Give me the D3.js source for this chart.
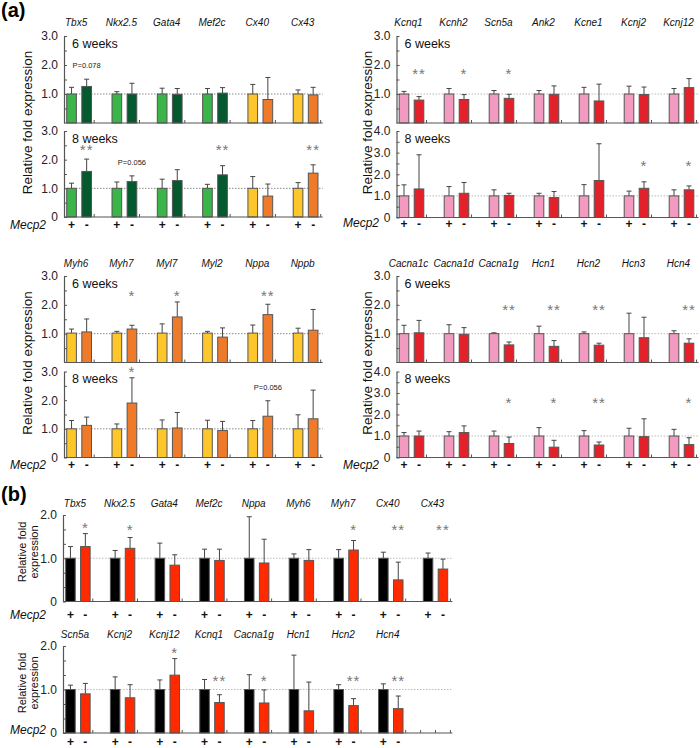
<!DOCTYPE html>
<html><head><meta charset="utf-8">
<script src="https://cdn.jsdelivr.net/npm/d3@7"></script>
<style>body{margin:0;background:#fff} svg{display:block} text{font-family:Arial,"Liberation Sans",sans-serif}</style>
</head><body><svg id="c" width="700" height="748"></svg>
<script>
// ---------------- DATA ----------------
const genesA1 = ["Tbx5","Nkx2.5","Gata4","Mef2c","Cx40","Cx43"];
const a1w6Plus = [1.00,1.00,1.00,1.00,1.00,1.00];
const a1w6PlusErr = [0.23,0.08,0.20,0.19,0.33,0.14];
const a1w6Minus = [1.26,1.00,0.99,1.03,0.81,0.97];
const a1w6MinusErr = [0.25,0.37,0.20,0.19,0.76,0.26];
const a1w6Sig = ["P=0.078","","","","",""];
const a1w8Plus = [1.00,1.00,1.00,1.00,1.00,1.00];
const a1w8PlusErr = [0.18,0.22,0.32,0.14,0.41,0.20];
const a1w8Minus = [1.59,1.235,1.27,1.47,0.73,1.53];
const a1w8MinusErr = [0.43,0.20,0.38,0.32,0.42,0.29];
const a1w8Sig = ["**","P=0.056","","**","","**"];

const genesA2 = ["Kcnq1","Kcnh2","Scn5a","Ank2","Kcne1","Kcnj2","Kcnj12"];
const a2w6Plus = [1.00,1.00,1.00,1.00,1.00,1.00,1.00];
const a2w6PlusErr = [0.09,0.19,0.12,0.12,0.23,0.27,0.19];
const a2w6Minus = [0.79,0.81,0.85,0.99,0.76,0.98,1.22];
const a2w6MinusErr = [0.12,0.17,0.14,0.29,0.58,0.26,0.31];
const a2w6Sig = ["**","*","*","","","",""];
const a2w8Plus = [1.00,1.00,1.00,1.00,1.00,1.00,1.00];
const a2w8PlusErr = [0.51,0.43,0.28,0.12,0.52,0.22,0.28];
const a2w8Minus = [1.32,1.12,1.02,0.92,1.71,1.35,1.28];
const a2w8MinusErr = [1.58,0.50,0.10,0.28,1.70,0.30,0.18];
const a2w8Sig = ["","","","","","*","*"];

const genesA3 = ["Myh6","Myh7","Myl7","Myl2","Nppa","Nppb"];
const a3w6Plus = [1.02,1.02,1.02,1.02,1.02,1.02];
const a3w6PlusErr = [0.14,0.06,0.32,0.06,0.28,0.17];
const a3w6Minus = [1.06,1.16,1.58,0.88,1.66,1.12];
const a3w6MinusErr = [0.45,0.13,0.52,0.32,0.36,0.72];
const a3w6Sig = ["","*","*","","**",""];
const a3w8Plus = [1.00,1.00,1.00,1.00,1.00,1.00];
const a3w8PlusErr = [0.29,0.17,0.31,0.30,0.29,0.49];
const a3w8Minus = [1.12,1.90,1.03,0.94,1.44,1.35];
const a3w8MinusErr = [0.29,0.88,0.54,0.32,0.54,1.00];
const a3w8Sig = ["","*","","","P=0.056",""];

const genesA4 = ["Cacna1c","Cacna1d","Cacna1g","Hcn1","Hcn2","Hcn3","Hcn4"];
const a4w6Plus = [1.00,1.00,1.00,1.00,1.00,1.00,1.00];
const a4w6PlusErr = [0.29,0.31,0.03,0.26,0.06,0.71,0.10];
const a4w6Minus = [1.03,0.98,0.61,0.56,0.60,0.86,0.67];
const a4w6MinusErr = [0.43,0.23,0.10,0.20,0.07,0.71,0.15];
const a4w6Sig = ["","","**","**","**","","**"];
const a4w8Plus = [1.00,1.00,1.00,1.00,1.00,1.00,1.00];
const a4w8PlusErr = [0.16,0.20,0.23,0.39,0.25,0.36,0.31];
const a4w8Minus = [1.00,1.16,0.65,0.48,0.58,0.97,0.60];
const a4w8MinusErr = [0.23,0.31,0.30,0.32,0.14,0.83,0.32];
const a4w8Sig = ["","","*","*","**","","*"];

const genesB1 = ["Tbx5","Nkx2.5","Gata4","Mef2c","Nppa","Myh6","Myh7","Cx40","Cx43"];
const b1Plus = [1,1,1,1,1,1,1,1,1];
const b1PlusErr = [0.27,0.18,0.35,0.21,0.96,0.10,0.20,0.14,0.12];
const b1Minus = [1.27,1.23,0.84,0.95,0.89,0.95,1.19,0.50,0.75];
const b1MinusErr = [0.30,0.25,0.24,0.26,0.55,0.25,0.22,0.41,0.23];
const b1Sig = ["*","*","","","","","*","**","**"];

const genesB2 = ["Scn5a","Kcnj2","Kcnj12","Kcnq1","Cacna1g","Hcn1","Hcn2","Hcn4"];
const b2Plus = [1,1,1,1,1,1,1,1];
const b2PlusErr = [0.10,0.29,0.22,0.23,0.34,0.79,0.11,0.13];
const b2Minus = [0.90,0.81,1.33,0.70,0.69,0.51,0.63,0.56];
const b2MinusErr = [0.24,0.30,0.38,0.18,0.30,0.66,0.16,0.29];
const b2Sig = ["","","*","**","*","","**","**"];

const yTicks3 = [1,2,3], yTicks3z = [0,1,2,3], yTicks4z = [0,1,2,3,4], yTicks2z = [0,1,2];

// ---------------- STYLE ----------------
const C = {lg:"#3bb44a", dg:"#05592e", ye:"#fdc62b", or:"#ef7b2a", pk:"#f29abf", rd:"#e2212a", bk:"#000000", br:"#ff2a00"};
const FONT = "Arial, 'Liberation Sans', sans-serif";
const svg = d3.select("#c");

function rep(v,n){return d3.range(n).map(()=>v);}

function drawSub(c) {
  const dom = c.genes.concat(d3.range(c.empty || 0).map(i => "__e" + i));
  const x = d3.scaleBand().domain(dom).range([c.x0, c.x0 + dom.length * c.gw]).padding(0);
  const slot = d3.scaleBand().domain(["+","-","_"]).range([0, x.bandwidth()]);
  const sw = slot.bandwidth(), bw = sw * 0.64;
  const y = d3.scaleLinear().domain([0, c.yMax]).range([c.y0, c.yTop]);
  const g = svg.append("g");
  const xEnd = x(dom[dom.length - 1]) + slot("_") + 2;

  g.append("line").attr("x1", c.x0).attr("x2", xEnd).attr("y1", y(1)).attr("y2", y(1))
    .attr("stroke", c.refCol).attr("stroke-width", 1).attr("stroke-dasharray", "1.5,1.5");

  const bars = [];
  c.genes.forEach((gn, i) => {
    bars.push({g: gn, k: "+", v: c.plus[i], e: c.plusErr[i], col: c.pc[i]});
    bars.push({g: gn, k: "-", v: c.minus[i], e: c.minusErr[i], col: c.mc[i]});
  });
  const cx = d => x(d.g) + slot(d.k) + sw / 2;
  g.selectAll("line.eb").data(bars).join("line").attr("class", "eb")
    .attr("x1", cx).attr("x2", cx).attr("y1", d => y(d.v)).attr("y2", d => y(d.v + d.e))
    .attr("stroke", "#444").attr("stroke-width", 1);
  g.selectAll("line.cap").data(bars).join("line").attr("class", "cap")
    .attr("x1", d => cx(d) - 2.5).attr("x2", d => cx(d) + 2.5).attr("y1", d => y(d.v + d.e)).attr("y2", d => y(d.v + d.e))
    .attr("stroke", "#444").attr("stroke-width", 1);
  g.selectAll("rect.bar").data(bars).join("rect").attr("class", "bar")
    .attr("x", d => cx(d) - bw / 2).attr("y", d => y(d.v)).attr("width", bw).attr("height", d => y(0) - y(d.v))
    .attr("fill", d => d.col).attr("stroke", "#555").attr("stroke-width", 1);

  g.append("line").attr("x1", c.x0).attr("x2", xEnd).attr("y1", y(0)).attr("y2", y(0)).attr("stroke", "#555").attr("stroke-width", 1.2);
  const xt = [];
  dom.forEach((d, i) => {
    if (i < c.genes.length) xt.push(x(d) + slot("_"));
    else { xt.push(x(d), x(d) + sw, x(d) + 2 * sw); }
  });
  g.selectAll("line.xt").data(xt).join("line").attr("class", "xt")
    .attr("x1", d => d).attr("x2", d => d).attr("y1", y(0)).attr("y2", y(0) - 3).attr("stroke", "#555");

  const ax = d3.axisLeft(y).tickValues(c.majors).tickFormat(d => d === 0 ? "0" : d.toFixed(1))
    .tickSizeInner(-3).tickSizeOuter(0).tickPadding(6);
  const ga = g.append("g").attr("transform", `translate(${c.x0},0)`).call(ax);
  ga.attr("font-size", null).attr("font-family", null);
  ga.select(".domain").attr("stroke", "#555").attr("stroke-width", 1.2);
  ga.selectAll(".tick line").attr("stroke", "#555");
  ga.selectAll(".tick text").attr("font-size", 12).attr("font-family", FONT).attr("fill", "#222");
  const minors = [];
  for (let v = c.minorStep; v < c.yMax; v += c.minorStep) if (Math.abs(v - Math.round(v)) > 1e-6) minors.push(v);
  const am = d3.axisLeft(y).tickValues(minors).tickFormat("").tickSizeInner(-3).tickSizeOuter(0);
  const gm = g.append("g").attr("transform", `translate(${c.x0},0)`).call(am);
  gm.select(".domain").remove();
  gm.selectAll(".tick line").attr("stroke", "#555");

  if (c.week) g.append("text").attr("x", c.x0 + 8).attr("y", c.yTop + 11.5).attr("font-size", 12.5).attr("font-family", FONT).attr("fill", "#111").text(c.week);

  if (c.showGenes) g.selectAll("text.gene").data(c.genes).join("text").attr("class", "gene")
    .attr("x", d => x(d) + sw - 3).attr("y", c.geneY).attr("text-anchor", "middle")
    .attr("font-size", 10).attr("font-style", "italic").attr("font-family", FONT).attr("fill", "#111").text(d => d);

  if (c.pmY) {
    g.selectAll("text.pm").data(bars).join("text").attr("class", "pm")
      .attr("x", cx).attr("y", c.pmY).attr("text-anchor", "middle").attr("font-size", 12).attr("font-weight", "bold")
      .attr("font-family", FONT).attr("fill", "#111").text(d => d.k);
    g.append("text").attr("x", c.mecpX).attr("y", c.mecpY).attr("font-size", 12).attr("font-style", "italic")
      .attr("font-family", FONT).attr("fill", "#111").text("Mecp2");
  }

  c.sig.forEach((s, i) => {
    if (!s) return;
    const xm = x(c.genes[i]) + slot("-") + sw / 2;
    const top = y(c.minus[i] + c.minusErr[i]);
    if (s.startsWith("P")) {
      g.append("text").attr("x", xm).attr("y", top - 11).attr("text-anchor", "middle").attr("font-size", 7.5)
        .attr("font-family", FONT).attr("fill", "#222").text(s);
    } else {
      const cyv = Math.min(c.sigY, top - 9);
      g.append("text").attr("x", xm).attr("y", cyv + 8).attr("text-anchor", "middle").attr("font-size", 15)
        .attr("letter-spacing", 1).attr("font-family", FONT).attr("fill", "#777").text(s);
    }
  });
}

const a1pc = [C.lg,C.lg,C.lg,C.lg,C.ye,C.ye], a1mc = [C.dg,C.dg,C.dg,C.dg,C.or,C.or];
const LX = 64, LG = 45.3, RX = 396.5, RG = 45;

drawSub({genes: genesA1, plus: a1w6Plus, plusErr: a1w6PlusErr, minus: a1w6Minus, minusErr: a1w6MinusErr, sig: a1w6Sig,
  pc: a1pc, mc: a1mc, x0: LX, gw: LG, yMax: 3, y0: 123, yTop: 36, majors: yTicks3, minorStep: 0.5, refCol: "#888",
  week: "6 weeks", showGenes: true, geneY: 26, sigY: 999});
drawSub({genes: genesA1, plus: a1w8Plus, plusErr: a1w8PlusErr, minus: a1w8Minus, minusErr: a1w8MinusErr, sig: a1w8Sig,
  pc: a1pc, mc: a1mc, x0: LX, gw: LG, yMax: 3, y0: 217, yTop: 131, majors: yTicks3z, minorStep: 0.5, refCol: "#888",
  week: "8 weeks", pmY: 229, mecpX: 10, mecpY: 229, sigY: 147});

drawSub({genes: genesA2, plus: a2w6Plus, plusErr: a2w6PlusErr, minus: a2w6Minus, minusErr: a2w6MinusErr, sig: a2w6Sig,
  pc: rep(C.pk,7), mc: rep(C.rd,7), x0: RX, gw: RG, yMax: 3, y0: 123, yTop: 36, majors: yTicks3, minorStep: 0.5, refCol: "#bbb",
  week: "6 weeks", showGenes: true, geneY: 26, sigY: 71});
drawSub({genes: genesA2, plus: a2w8Plus, plusErr: a2w8PlusErr, minus: a2w8Minus, minusErr: a2w8MinusErr, sig: a2w8Sig,
  pc: rep(C.pk,7), mc: rep(C.rd,7), x0: RX, gw: RG, yMax: 4, y0: 217.5, yTop: 131, majors: yTicks4z, minorStep: 0.5, refCol: "#bbb",
  week: "8 weeks", pmY: 228, mecpX: 343, mecpY: 227, sigY: 163});

drawSub({genes: genesA3, plus: a3w6Plus, plusErr: a3w6PlusErr, minus: a3w6Minus, minusErr: a3w6MinusErr, sig: a3w6Sig,
  pc: rep(C.ye,6), mc: rep(C.or,6), x0: LX, gw: LG, yMax: 3, y0: 362.5, yTop: 276, majors: yTicks3, minorStep: 0.5, refCol: "#888",
  week: "6 weeks", showGenes: true, geneY: 267, sigY: 293});
drawSub({genes: genesA3, plus: a3w8Plus, plusErr: a3w8PlusErr, minus: a3w8Minus, minusErr: a3w8MinusErr, sig: a3w8Sig,
  pc: rep(C.ye,6), mc: rep(C.or,6), x0: LX, gw: LG, yMax: 3, y0: 457.5, yTop: 371.5, majors: yTicks3z, minorStep: 0.5, refCol: "#888",
  week: "8 weeks", pmY: 469, mecpX: 10, mecpY: 469, sigY: 372});

drawSub({genes: genesA4, plus: a4w6Plus, plusErr: a4w6PlusErr, minus: a4w6Minus, minusErr: a4w6MinusErr, sig: a4w6Sig,
  pc: rep(C.pk,7), mc: rep(C.rd,7), x0: RX, gw: RG, yMax: 3, y0: 362.5, yTop: 276, majors: yTicks3, minorStep: 0.5, refCol: "#bbb",
  week: "6 weeks", showGenes: true, geneY: 267, sigY: 307});
drawSub({genes: genesA4, plus: a4w8Plus, plusErr: a4w8PlusErr, minus: a4w8Minus, minusErr: a4w8MinusErr, sig: a4w8Sig,
  pc: rep(C.pk,7), mc: rep(C.rd,7), x0: RX, gw: RG, yMax: 4, y0: 457.5, yTop: 371.5, majors: yTicks4z, minorStep: 0.5, refCol: "#bbb",
  week: "8 weeks", pmY: 469, mecpX: 343, mecpY: 469, sigY: 400});

drawSub({genes: genesB1, plus: b1Plus, plusErr: b1PlusErr, minus: b1Minus, minusErr: b1MinusErr, sig: b1Sig,
  pc: rep(C.bk,9), mc: rep(C.br,9), x0: 63, gw: 44.7, yMax: 2, y0: 601.5, yTop: 515, majors: yTicks2z, minorStep: 1/3, refCol: "#bbb",
  showGenes: true, geneY: 507, pmY: 619, mecpX: 10, mecpY: 619, sigY: 527});
drawSub({genes: genesB2, plus: b2Plus, plusErr: b2PlusErr, minus: b2Minus, minusErr: b2MinusErr, sig: b2Sig, empty: 1,
  pc: rep(C.bk,8), mc: rep(C.br,8), x0: 63, gw: 44.7, yMax: 2, y0: 733, yTop: 646, majors: yTicks2z, minorStep: 1/3, refCol: "#bbb",
  showGenes: true, geneY: 638, pmY: 745.5, mecpX: 10, mecpY: 734, sigY: 678});

svg.append("text").attr("x", 1).attr("y", 17).attr("font-size", 20).attr("font-weight", "bold").attr("font-family", FONT).text("(a)");
svg.append("text").attr("x", 1).attr("y", 501).attr("font-size", 20).attr("font-weight", "bold").attr("font-family", FONT).text("(b)");
[[32,122.5],[372,122.5],[32,363],[372,363]].forEach(p => {
  svg.append("text").attr("transform", `translate(${p[0]},${p[1]}) rotate(-90)`).attr("text-anchor", "middle")
    .attr("font-size", 13.5).attr("font-family", FONT).attr("fill", "#111").text("Relative fold expression");
});
[[552],[683]].forEach(p => {
  const t = svg.append("text").attr("transform", `translate(26,${p[0]}) rotate(-90)`).attr("text-anchor", "middle")
    .attr("font-size", 11).attr("font-family", FONT).attr("fill", "#111");
  t.append("tspan").attr("x", 0).attr("dy", 0).text("Relative fold");
  t.append("tspan").attr("x", 0).attr("dy", 12).text("expression");
});
</script>
</body></html>
